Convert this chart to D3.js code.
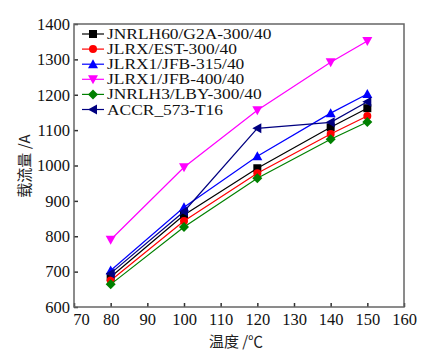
<!DOCTYPE html>
<html><head><meta charset="utf-8">
<script src="https://cdn.jsdelivr.net/npm/d3@7"></script>
<style>body{margin:0;background:#fff}svg{display:block}</style>
</head><body>
<svg id="c" width="448" height="351"></svg>
<script>
const temps = [80, 100, 120, 140, 150];
const seriesNames = ["JNRLH60/G2A-300/40","JLRX/EST-300/40","JLRX1/JFB-315/40","JLRX1/JFB-400/40","JNRLH3/LBY-300/40","ACCR_573-T16"];
const s1 = [685, 860, 992, 1108, 1162];
const s2 = [675, 843, 978, 1089, 1140];
const s3 = [703, 882, 1026, 1148, 1202];
const s4 = [790, 995, 1156, 1292, 1352];
const s5 = [664, 826, 964, 1074, 1123];
const s6 = [695, 870, 1105, 1122, 1180];
const xTicks = [70,80,90,100,110,120,130,140,150,160];
const yTicks = [600,700,800,900,1000,1100,1200,1300,1400];
const colors = ["#000000","#ff0000","#0000ff","#ff00ff","#008000","#000080"];
const shapes = ["square","circle","up","down","diamond","left"];
const xLabel = "温度 /℃";
const yLabel = "载流量 /A";

const svg = d3.select("#c");
const L=74,T=24,R=404,B=307;
const x = d3.scaleLinear().domain([70,160]).range([L,R]);
const y = d3.scaleLinear().domain([600,1400]).range([B,T]);
const font = "'Liberation Serif','Times New Roman',serif";

function marker(g, shape, cx, cy, col){
  const s=4;
  let p;
  if(shape==="square") p=`M${cx-s},${cy-s}h${2*s}v${2*s}h${-2*s}Z`;
  else if(shape==="circle"){ g.append("circle").attr("cx",cx).attr("cy",cy).attr("r",4).attr("fill",col); return; }
  else if(shape==="up") p=`M${cx},${cy-5}L${cx+5},${cy+4}L${cx-5},${cy+4}Z`;
  else if(shape==="down") p=`M${cx},${cy+5}L${cx+5},${cy-4}L${cx-5},${cy-4}Z`;
  else if(shape==="diamond") p=`M${cx},${cy-5}L${cx+5},${cy}L${cx},${cy+5}L${cx-5},${cy}Z`;
  else if(shape==="left") p=`M${cx-5},${cy}L${cx+4},${cy-5}L${cx+4},${cy+5}Z`;
  g.append("path").attr("d",p).attr("fill",col);
}

// axes
const xa = svg.append("g").attr("transform",`translate(0,${B})`)
  .call(d3.axisBottom(x).tickValues(xTicks).tickFormat(d3.format("d")).tickSizeInner(-4).tickSizeOuter(0).tickPadding(6));
const ya = svg.append("g").attr("transform",`translate(${L},0)`)
  .call(d3.axisLeft(y).tickValues(yTicks).tickFormat(d3.format("d")).tickSizeInner(-4).tickSizeOuter(0).tickPadding(4));
[xa,ya].forEach(a=>{
  a.select(".domain").remove();
  a.selectAll("line").attr("stroke","#333").attr("stroke-width",1.5);
  a.selectAll("text").attr("font-family",font).attr("font-size",16.5).attr("fill","#111");
});
xa.selectAll(".tick").filter(d=>d===70).select("text").attr("dx",7);
svg.append("rect").attr("x",L).attr("y",T).attr("width",R-L).attr("height",B-T)
  .attr("fill","none").attr("stroke","#666").attr("stroke-width",1.5);

const data = [s1,s2,s3,s4,s5,s6];
const line = d3.line().x((d,i)=>x(temps[i])).y(d=>y(d));
data.forEach((vals,k)=>{
  const g = svg.append("g");
  g.append("path").attr("d",line(vals)).attr("fill","none").attr("stroke",colors[k]).attr("stroke-width",1.2);
  vals.forEach((v,i)=>marker(g,shapes[k],x(temps[i]),y(v),colors[k]));
});

// legend
const lg = svg.append("g");
seriesNames.forEach((n,k)=>{
  const yy = 34 + k*15.1;
  lg.append("line").attr("x1",82).attr("x2",104).attr("y1",yy).attr("y2",yy).attr("stroke",colors[k]).attr("stroke-width",1.2);
  marker(lg,shapes[k],93,yy,colors[k]);
  const t = lg.append("text").attr("x",107).attr("y",yy+5).text(n)
    .attr("font-family",font).attr("font-size",15).attr("fill","#111");
  const w = t.node().getComputedTextLength();
  t.attr("textLength", w*1.16).attr("lengthAdjust","spacingAndGlyphs");
});

svg.append("text").attr("x",236).attr("y",347).attr("text-anchor","middle").text(xLabel)
  .attr("font-family","'Noto Sans CJK SC',sans-serif").attr("font-size",15).attr("fill","#222");
svg.append("text").attr("transform",`translate(30,166) rotate(-90)`).attr("text-anchor","middle").text(yLabel)
  .attr("font-family","'Noto Sans CJK SC',sans-serif").attr("font-size",15).attr("fill","#222");
</script>
</body></html>
